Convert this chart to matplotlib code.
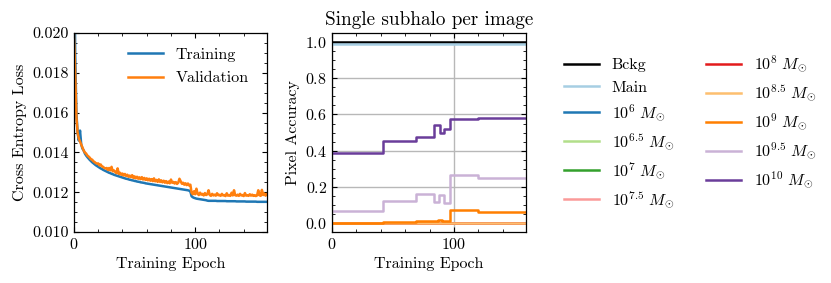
import numpy as np
import matplotlib
matplotlib.use("Agg")
import matplotlib.pyplot as plt
from matplotlib.ticker import MultipleLocator

plt.rcParams['font.family'] = 'serif'
plt.rcParams['font.serif'] = ['cmr10', 'DejaVu Serif']
plt.rcParams['mathtext.fontset'] = 'cm'
plt.rcParams['axes.formatter.use_mathtext'] = True
plt.rcParams['font.size'] = 11.5

# Loss curves (one value per epoch)
train_loss = [
    0.0270, 0.0190, 0.0160, 0.0150, 0.0146, 0.0151, 0.0144, 0.0142, 0.0141, 0.01395,
    0.01385, 0.01377, 0.01370, 0.01363, 0.01357, 0.01351, 0.01346, 0.01341, 0.01336, 0.01332,
    0.01328, 0.01324, 0.01320, 0.01317, 0.01313, 0.01310, 0.01307, 0.01304, 0.01301, 0.01298,
    0.01296, 0.01293, 0.01291, 0.01288, 0.01286, 0.01284, 0.01282, 0.01280, 0.01278, 0.01276,
    0.01274, 0.01272, 0.01270, 0.01268, 0.01267, 0.01265, 0.01263, 0.01262, 0.01260, 0.01259,
    0.01257, 0.01256, 0.01254, 0.01253, 0.01252, 0.01250, 0.01249, 0.01248, 0.01247, 0.01245,
    0.01244, 0.01243, 0.01242, 0.01241, 0.01240, 0.01239, 0.01238, 0.01237, 0.01236, 0.01235,
    0.01234, 0.01233, 0.01232, 0.01231, 0.01230, 0.01229, 0.01228, 0.01227, 0.01226, 0.01225,
    0.01224, 0.01223, 0.01222, 0.01221, 0.01220, 0.01219, 0.01218, 0.01217, 0.01216, 0.01215,
    0.01214, 0.01213, 0.01212, 0.01211, 0.01210, 0.01208, 0.01205, 0.01180, 0.01175, 0.01172,
    0.01170, 0.01168, 0.01167, 0.01166, 0.01165, 0.01164, 0.01163, 0.01162, 0.01161, 0.01160,
    0.01158, 0.01157, 0.01157, 0.01157, 0.01157, 0.01157, 0.01157, 0.01157, 0.01156, 0.01156,
    0.01156, 0.01156, 0.01156, 0.01156, 0.01156, 0.01156, 0.01155, 0.01155, 0.01155, 0.01155,
    0.01155, 0.01155, 0.01155, 0.01155, 0.01154, 0.01154, 0.01154, 0.01154, 0.01154, 0.01154,
    0.01154, 0.01154, 0.01153, 0.01153, 0.01153, 0.01153, 0.01153, 0.01153, 0.01153, 0.01153,
    0.01153, 0.01152, 0.01152, 0.01152, 0.01152, 0.01152, 0.01152, 0.01152, 0.01152, 0.01152,
]
val_loss = [
    0.0200, 0.0180, 0.0158, 0.0150, 0.0147, 0.01455, 0.0144, 0.01425, 0.0141, 0.0140,
    0.01395, 0.01385, 0.0138, 0.01374, 0.01366, 0.01364, 0.01356, 0.01352, 0.01347, 0.01344,
    0.01345, 0.01335, 0.0134, 0.0133, 0.01328, 0.01322, 0.0132, 0.01322, 0.01312, 0.01322,
    0.0131, 0.01328, 0.01305, 0.0131, 0.01302, 0.01296, 0.0132, 0.01292, 0.01298, 0.01288,
    0.01294, 0.01284, 0.01292, 0.01282, 0.01288, 0.01278, 0.01284, 0.01276, 0.01286, 0.01272,
    0.0128, 0.0127, 0.01278, 0.01268, 0.01275, 0.01266, 0.01276, 0.01264, 0.01272, 0.01262,
    0.0127, 0.0126, 0.01268, 0.01258, 0.01266, 0.01256, 0.0127, 0.01255, 0.01262, 0.01252,
    0.01265, 0.01252, 0.0126, 0.0125, 0.01258, 0.01248, 0.01256, 0.01246, 0.01254, 0.01245,
    0.01264, 0.01248, 0.01252, 0.01244, 0.01251, 0.01242, 0.01248, 0.01268, 0.01255, 0.01243,
    0.01248, 0.01238, 0.01245, 0.01236, 0.01244, 0.01234, 0.01238, 0.01198, 0.0119, 0.01205,
    0.0119, 0.01218, 0.01192, 0.01186, 0.01198, 0.01188, 0.01192, 0.01184, 0.01196, 0.01186,
    0.0119, 0.0121, 0.01186, 0.01182, 0.01192, 0.01184, 0.01188, 0.01183, 0.01195, 0.01185,
    0.01187, 0.01182, 0.01192, 0.01184, 0.01186, 0.01181, 0.01195, 0.01183, 0.01186, 0.01182,
    0.01198, 0.01184, 0.0121, 0.01185, 0.01183, 0.01188, 0.01182, 0.01192, 0.01184, 0.01186,
    0.01181, 0.01196, 0.01183, 0.01185, 0.01182, 0.0119, 0.01183, 0.01188, 0.01182, 0.01185,
    0.01181, 0.01184, 0.0121, 0.01185, 0.01182, 0.01212, 0.01186, 0.01194, 0.01183, 0.0119,
]
epochs = np.arange(len(train_loss))

# Pixel accuracy per class: (epochs where value changes, value), drawn as steps
class_labels = ['Bckg', 'Main', r'$10^{6}\ M_{\odot}$', r'$10^{6.5}\ M_{\odot}$',
                r'$10^{7}\ M_{\odot}$', r'$10^{7.5}\ M_{\odot}$', r'$10^{8}\ M_{\odot}$',
                r'$10^{8.5}\ M_{\odot}$', r'$10^{9}\ M_{\odot}$', r'$10^{9.5}\ M_{\odot}$',
                r'$10^{10}\ M_{\odot}$']
class_colors = ['black', '#a6cee3', '#1f78b4', '#b2df8a', '#33a02c', '#fb9a99',
                '#e31a1c', '#fdbf6f', '#ff7f00', '#cab2d6', '#6a3d9a']
acc_epochs = [
    [0, 159], [0, 159], [0, 159], [0, 159], [0, 159], [0, 159], [0, 159], [0, 159],
    [0, 41.5, 69, 84, 87, 90, 96.5, 119.5, 159],
    [0, 41.5, 69, 84, 88, 92, 96.5, 119.5, 159],
    [0, 41.5, 69, 84, 88.5, 92, 96.5, 119.5, 159],
]
acc_values = [
    [1.0, 1.0], [0.991, 0.991], [0.0, 0.0], [0.0, 0.0], [0.0, 0.0], [0.0, 0.0],
    [0.0, 0.0], [-0.002, -0.002],
    [0.001, 0.008, 0.013, 0.011, 0.018, 0.013, 0.070, 0.062, 0.062],
    [0.066, 0.123, 0.160, 0.117, 0.154, 0.112, 0.264, 0.248, 0.248],
    [0.387, 0.453, 0.475, 0.544, 0.497, 0.520, 0.573, 0.582, 0.582],
]

fig = plt.figure(figsize=(8.31, 2.83), dpi=100)
ax1 = fig.add_axes([0.089, 0.180, 0.232, 0.703])
ax2 = fig.add_axes([0.3995, 0.180, 0.2335, 0.703])

# Loss panel
ax1.plot(epochs, train_loss, color='#1f77b4', lw=1.8, label='Training')
ax1.plot(epochs, val_loss, color='#ff7f0e', lw=1.8, label='Validation')
ax1.set_xlim(0, 159)
ax1.set_ylim(0.010, 0.020)
ax1.xaxis.set_major_locator(MultipleLocator(100))
ax1.xaxis.set_minor_locator(MultipleLocator(20))
ax1.yaxis.set_major_locator(MultipleLocator(0.002))
ax1.yaxis.set_minor_locator(MultipleLocator(0.0005))
ax1.yaxis.set_major_formatter(plt.FormatStrFormatter('%.3f'))
ax1.set_xlabel('Training Epoch')
ax1.set_ylabel('Cross Entropy Loss')
ax1.legend(loc='upper left', bbox_to_anchor=(0.245, 0.96), frameon=False,
           handlelength=2.2, borderaxespad=0.0, labelspacing=0.6)

# Accuracy panel
handles = []
for xs, ys, col, lab in zip(acc_epochs, acc_values, class_colors, class_labels):
    h, = ax2.plot(xs, ys, drawstyle='steps-post', color=col, lw=1.8, label=lab)
    handles.append(h)
ax2.set_xlim(0, 159)
ax2.set_ylim(-0.05, 1.05)
ax2.xaxis.set_major_locator(MultipleLocator(100))
ax2.xaxis.set_minor_locator(MultipleLocator(20))
ax2.yaxis.set_major_locator(MultipleLocator(0.2))
ax2.yaxis.set_minor_locator(MultipleLocator(0.05))
ax2.grid(True, which='major', color='#b8b8b8', lw=1.0)
ax2.set_axisbelow(True)
ax2.set_xlabel('Training Epoch')
ax2.set_ylabel('Pixel Accuracy')
ax2.set_title('Single subhalo per image', pad=6)

for ax in (ax1, ax2):
    ax.tick_params(which='both', direction='in', top=True, right=True)
    ax.tick_params(which='major', length=3.8, width=0.8)
    ax.tick_params(which='minor', length=2.0, width=0.6)
    for s in ax.spines.values():
        s.set_linewidth(0.9)

fig.legend(handles, class_labels, loc='upper left', bbox_to_anchor=(0.661, 0.86),
           ncol=2, frameon=False, handlelength=2.2, columnspacing=2.0,
           labelspacing=0.5)

fig.savefig('out.png', dpi=100)
